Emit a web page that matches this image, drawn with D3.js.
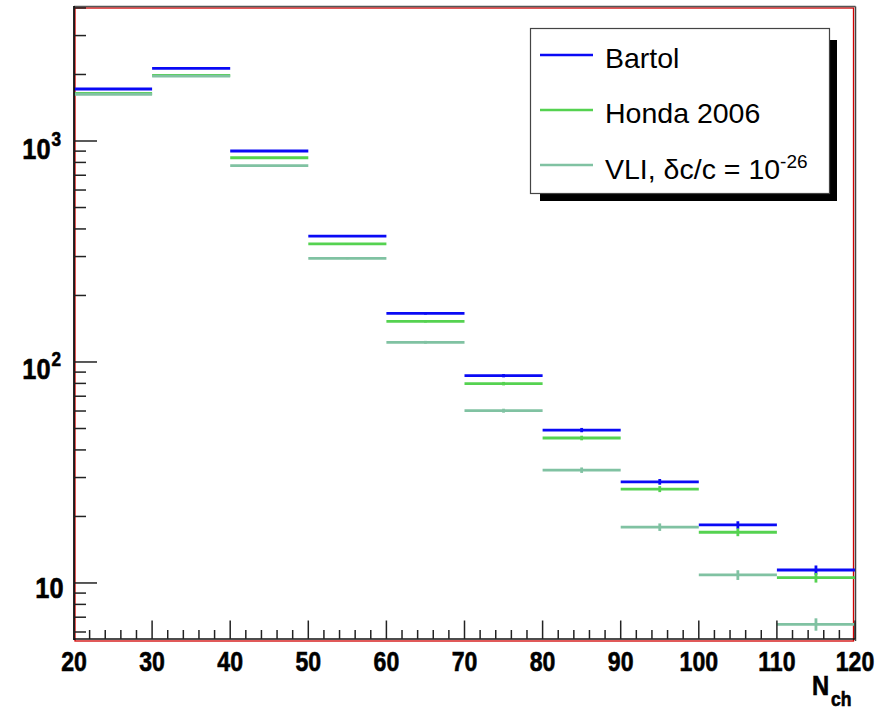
<!DOCTYPE html>
<html>
<head>
<meta charset="utf-8">
<script src="https://cdn.jsdelivr.net/npm/d3@7"></script>
<style>
  html, body { margin: 0; padding: 0; background: #fff; }
  svg { display: block; }
</style>
</head>
<body>
<svg id="chart" width="883" height="710"></svg>
<script>
// Charged-multiplicity spectra, 10 bins of width 10 in N_ch
const binEdges = [20, 30, 40, 50, 60, 70, 80, 90, 100, 110, 120];

const bartol    = [1719, 2133, 901, 371, 166, 86.7, 49.2, 28.7, 18.3, 11.45];
const bartolErr = [7.0, 7.5, 4.8, 3.1, 2.1, 1.5, 1.1, 0.85, 0.72, 0.55];

const honda     = [1640, 1980, 840, 342, 152.8, 79.8, 45.3, 26.6, 16.96, 10.57];
const hondaErr  = [6.6, 7.2, 4.6, 3.0, 2.0, 1.45, 1.08, 0.83, 0.68, 0.53];

const vli       = [1628, 1965, 773, 294.6, 122.8, 60.2, 32.4, 17.9, 10.87, 6.5];
const vliErr    = [6.5, 7.1, 4.4, 2.75, 1.8, 1.25, 0.92, 0.7, 0.55, 0.42];

const xTickValues = [20, 30, 40, 50, 60, 70, 80, 90, 100, 110, 120];
const yTickValues = [10, 100, 1000];

const series = [
  { name: "Bartol",     values: bartol, errors: bartolErr, color: "#0a0af5" },
  { name: "Honda 2006", values: honda,  errors: hondaErr,  color: "#55d250" },
  { name: "VLI",        values: vli,    errors: vliErr,    color: "#80c2a2" }
];

(function draw() {
const svg = d3.select("#chart");
const pLeft = 74, pRight = 855, pTop = 7, pBottom = 640;

const x = d3.scaleLinear().domain([20, 120]).range([pLeft, pRight]);
const y = d3.scaleLog().domain([5.52, 4040]).range([pBottom, pTop]);

// frame
svg.append("rect")
  .attr("x", pLeft + 1).attr("y", pTop + 1)
  .attr("width", pRight - pLeft - 2.5).attr("height", pBottom - pTop)
  .attr("fill", "none").attr("stroke", "#d20000").attr("stroke-width", 1.3);
svg.append("line").attr("x1", pLeft).attr("x2", pRight + 0.5).attr("y1", pTop - 0.5).attr("y2", pTop - 0.5)
  .attr("stroke", "#555").attr("stroke-width", 1.5);
svg.append("line").attr("x1", pRight + 0.5).attr("x2", pRight + 0.5).attr("y1", pTop - 0.5).attr("y2", pBottom + 1)
  .attr("stroke", "#444").attr("stroke-width", 1.5);

// data: horizontal bin-width bars with vertical error bars
const plot = svg.append("g");
series.forEach(s => {
  const g = plot.append("g").attr("stroke", s.color).attr("stroke-width", 2.8).attr("fill", "none");
  s.values.forEach((v, i) => {
    const x0 = x(binEdges[i]), x1 = x(binEdges[i + 1]);
    const xc = x((binEdges[i] + binEdges[i + 1]) / 2);
    g.append("line").attr("x1", x0).attr("x2", x1).attr("y1", y(v)).attr("y2", y(v));
    g.append("line").attr("x1", xc).attr("x2", xc)
      .attr("y1", y(v - s.errors[i])).attr("y2", y(v + s.errors[i]));
  });
});

const tfont = "Liberation Sans, Arial, sans-serif";
// bold axis labels, slightly condensed and heavy
function label(sel, tx, ty, size, txt, anchor, sx) {
  return sel.append("text")
    .attr("transform", `translate(${tx},${ty}) scale(${sx},1)`)
    .attr("text-anchor", anchor)
    .attr("font-family", tfont).attr("font-weight", "bold").attr("font-size", size)
    .attr("fill", "#000").attr("stroke", "#000").attr("stroke-width", 0.6)
    .text(txt);
}

// y axis
const yAxis = svg.append("g");
yAxis.append("line").attr("x1", pLeft).attr("x2", pLeft).attr("y1", pTop - 1).attr("y2", pBottom)
  .attr("stroke", "#111").attr("stroke-width", 1.8);
y.ticks().forEach(t => {
  const major = yTickValues.includes(t);
  yAxis.append("line").attr("x1", pLeft).attr("x2", pLeft + (major ? 23 : 12))
    .attr("y1", y(t)).attr("y2", y(t)).attr("stroke", "#222").attr("stroke-width", 1.5);
});
yTickValues.forEach(t => {
  const exp = Math.round(Math.log10(t));
  const ty = y(t);
  if (exp === 1) {
    label(yAxis, 63.5, ty + 15, 29.5, "10", "end", 0.86);
  } else {
    label(yAxis, 50.5, ty + 17.5, 29.5, "10", "end", 0.86);
    label(yAxis, 51.5, ty + 4.5, 19.5, String(exp), "start", 0.88);
  }
});

// x axis
const xAxis = svg.append("g");
xAxis.append("line").attr("x1", pLeft).attr("x2", pRight).attr("y1", pBottom - 1).attr("y2", pBottom - 1)
  .attr("stroke", "#111").attr("stroke-width", 1.6);
d3.range(20, 121, 2).forEach(t => {
  const major = xTickValues.includes(t);
  xAxis.append("line").attr("x1", x(t)).attr("x2", x(t))
    .attr("y1", pBottom - 1).attr("y2", pBottom - 1 - (major ? 18.5 : 9))
    .attr("stroke", "#222").attr("stroke-width", 1.5);
});
xTickValues.forEach(t => {
  label(xAxis, x(t), 671, 27.5, String(t), "middle", 0.84);
});
label(xAxis, 812, 695, 27, "N", "start", 0.88);
label(xAxis, 831, 706, 20, "ch", "start", 0.88);

// legend
const legend = svg.append("g");
legend.append("rect").attr("x", 540).attr("y", 40).attr("width", 297).attr("height", 161).attr("fill", "#000");
legend.append("rect").attr("x", 530.5).attr("y", 28.5).attr("width", 299).attr("height", 165)
  .attr("fill", "#fff").attr("stroke", "#444").attr("stroke-width", 1.2);
const legendRows = [55, 110, 165];
series.forEach((s, i) => {
  const ly = legendRows[i];
  legend.append("line").attr("x1", 540).attr("x2", 593).attr("y1", ly).attr("y2", ly)
    .attr("stroke", s.color).attr("stroke-width", 2.6);
});
const lfont = "Liberation Sans, Arial, Helvetica, sans-serif";
legend.append("text").attr("x", 605).attr("y", 68).attr("font-family", lfont).attr("font-size", 28.5).text("Bartol");
legend.append("text").attr("x", 605).attr("y", 123).attr("font-family", lfont).attr("font-size", 28.5).text("Honda 2006");
const vt = legend.append("text").attr("x", 605).attr("y", 178.5).attr("font-family", lfont).attr("font-size", 28.5);
vt.append("tspan").text("VLI, δc/c = 10");
vt.append("tspan").attr("dy", -11).attr("font-size", 19).text("-26");
})();
</script>
</body>
</html>
